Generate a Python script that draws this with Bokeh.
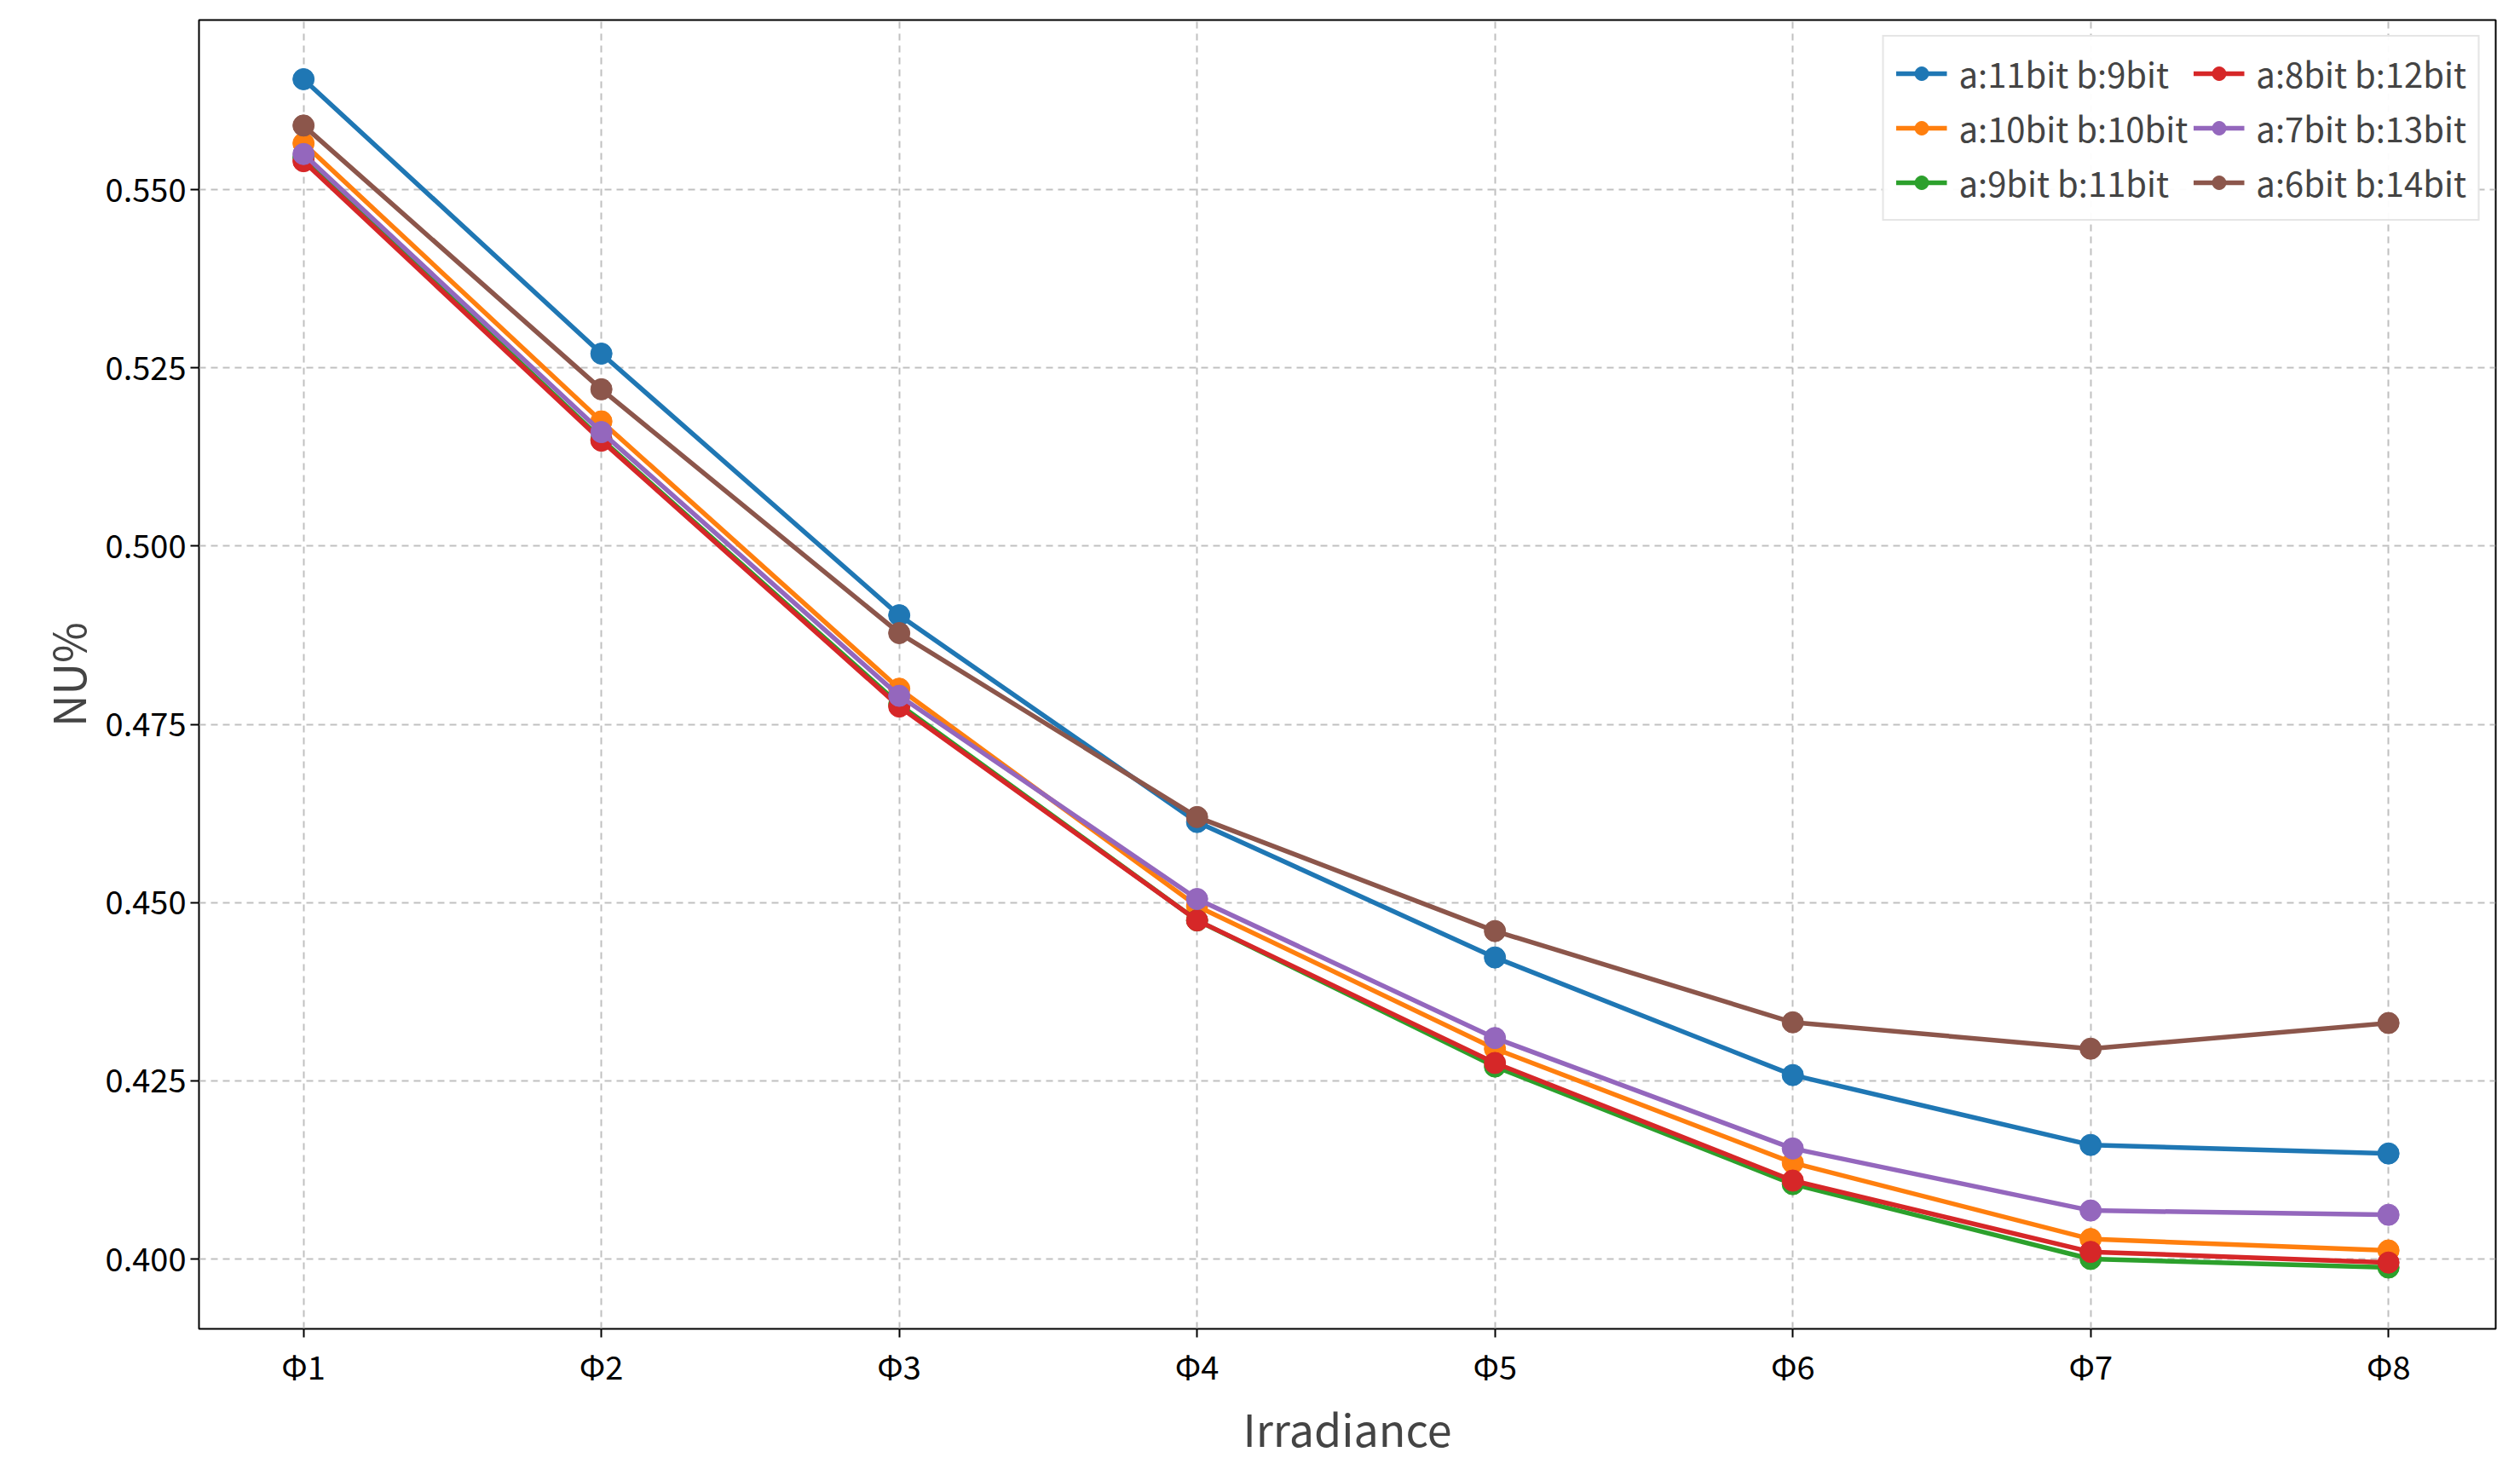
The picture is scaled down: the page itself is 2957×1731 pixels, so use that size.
from bokeh.plotting import figure
from bokeh.models import Range1d, FixedTicker, Legend, LegendItem, NumeralTickFormatter
from bokeh.embed import file_html
from bokeh.resources import INLINE

x = [1, 2, 3, 4, 5, 6, 7, 8]
x_labels = ["Φ1", "Φ2", "Φ3", "Φ4", "Φ5", "Φ6", "Φ7", "Φ8"]
names = ["a:11bit b:9bit", "a:10bit b:10bit", "a:9bit b:11bit",
         "a:8bit b:12bit", "a:7bit b:13bit", "a:6bit b:14bit"]
s_blue = [0.5655, 0.5270, 0.4903, 0.4613, 0.4423, 0.4258, 0.4160, 0.4148]
s_orange = [0.5565, 0.5175, 0.4800, 0.4495, 0.4295, 0.4135, 0.4028, 0.4012]
s_green = [0.5545, 0.5150, 0.4778, 0.4475, 0.4270, 0.4105, 0.4000, 0.3988]
s_red = [0.5540, 0.5148, 0.4775, 0.4475, 0.4275, 0.4110, 0.4010, 0.3995]
s_purple = [0.5550, 0.5160, 0.4790, 0.4505, 0.4310, 0.4155, 0.4068, 0.4062]
s_brown = [0.5590, 0.5220, 0.4878, 0.4620, 0.4460, 0.4332, 0.4295, 0.4331]
series = [s_blue, s_orange, s_green, s_red, s_purple, s_brown]
colors = ["#1f77b4", "#ff7f0e", "#2ca02c", "#d62728", "#9467bd", "#8c564b"]

FONT = "Noto Sans CJK SC"
p = figure(width=2940, height=1715, output_backend="svg", toolbar_location=None,
           x_range=Range1d(0.649, 8.36), y_range=Range1d(0.3902, 0.5738),
           min_border_left=233, min_border_right=12, min_border_top=23, min_border_bottom=129)
p.outline_line_color = "black"
p.outline_line_width = 2
p.background_fill_color = "white"

items = []
for name, ys, c in zip(names, series, colors):
    r1 = p.line(x, ys, line_color=c, line_width=5.5)
    r2 = p.scatter(x, ys, size=25, fill_color=c, line_color=c)
    items.append(LegendItem(label=name, renderers=[r1, r2]))

leg = Legend(items=items, ncols=2, location="top_right")
leg.label_text_font = FONT
leg.label_text_font_size = "40px"
leg.glyph_width = 60
leg.glyph_height = 40
leg.spacing = 6
leg.padding = 14
leg.margin = 18
leg.border_line_color = "#cccccc"
leg.border_line_width = 2
leg.label_standoff = 14
p.add_layout(leg)

p.xaxis.ticker = FixedTicker(ticks=x)
p.xaxis.major_label_overrides = {i: l for i, l in zip(x, x_labels)}
p.yaxis.ticker = FixedTicker(ticks=[0.400, 0.425, 0.450, 0.475, 0.500, 0.525, 0.550])
p.yaxis.formatter = NumeralTickFormatter(format="0.000")
p.xaxis.axis_label = "Irradiance"
p.yaxis.axis_label = "NU%"
for ax in (p.xaxis, p.yaxis):
    ax.axis_label_text_font = FONT
    ax.axis_label_text_font_size = "52px"
    ax.axis_label_text_font_style = "normal"
    ax.major_label_text_font = FONT
    ax.major_label_text_font_size = "38px"
    ax.major_label_text_color = "black"
    ax.axis_line_color = None
    ax.minor_tick_line_color = None
    ax.major_tick_line_width = 2
    ax.major_tick_out = 10
    ax.major_tick_in = 0
for g in (p.xgrid, p.ygrid):
    g.grid_line_color = "#b0b0b0"
    g.grid_line_dash = "8 6"
    g.grid_line_width = 2
    g.grid_line_alpha = 0.8

open("out.html", "w").write(file_html(p, INLINE))
